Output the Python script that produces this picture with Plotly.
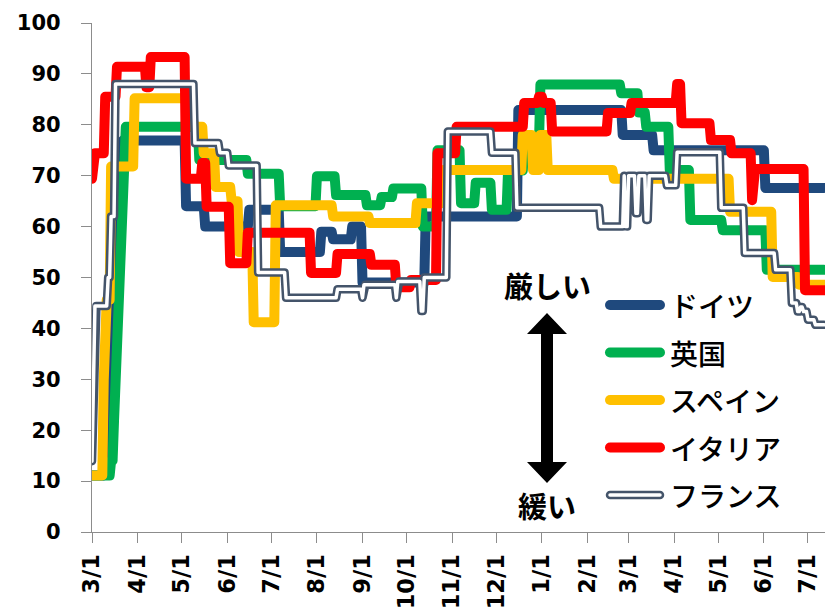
import pandas as pd
import plotly.graph_objects as go

# ---- stringency index, recorded as (date the level changed, new level) ----
GERMANY_DATES = ["2020-03-01", "2020-03-10", "2020-03-13", "2020-03-16", "2020-03-18", "2020-03-20",
                 "2020-03-22", "2020-05-04", "2020-05-17", "2020-06-16", "2020-07-07", "2020-08-04",
                 "2020-08-12", "2020-08-25", "2020-09-01", "2020-10-14", "2020-12-16", "2021-02-25",
                 "2021-03-18", "2021-06-02"]
GERMANY_VALUES = [11.1, 25.0, 34.0, 48.0, 60.0, 68.0,
                  76.9, 64.0, 60.0, 63.3, 55.0, 59.0,
                  57.5, 60.0, 49.0, 62.0, 82.9, 78.0,
                  75.0, 67.6]

UK_DATES = ["2020-03-01", "2020-03-14", "2020-03-16", "2020-03-17", "2020-03-18", "2020-03-19",
            "2020-03-20", "2020-03-21", "2020-03-22", "2020-03-23", "2020-05-13", "2020-06-15",
            "2020-07-07", "2020-08-01", "2020-08-14", "2020-09-04", "2020-09-14", "2020-09-22",
            "2020-10-12", "2020-10-22", "2020-11-07", "2020-11-17", "2020-11-28", "2020-12-09",
            "2020-12-20", "2020-12-31", "2021-02-24", "2021-03-08", "2021-03-13", "2021-03-29",
            "2021-04-12", "2021-05-04", "2021-06-03"]
UK_VALUES = [11.1, 14.0, 22.0, 30.0, 38.0, 46.0,
             55.0, 64.0, 72.0, 79.6, 73.1, 70.4,
             64.0, 69.9, 66.2, 64.2, 65.8, 67.5,
             60.0, 75.0, 64.6, 68.6, 63.3, 71.0,
             75.9, 87.9, 86.2, 82.4, 79.6, 71.1,
             61.3, 59.3, 51.5]

SPAIN_DATES = ["2020-03-01", "2020-03-09", "2020-03-10", "2020-03-14", "2020-03-30", "2020-05-09",
               "2020-05-16", "2020-05-24", "2020-06-04", "2020-06-09", "2020-06-19", "2020-07-04",
               "2020-08-12", "2020-09-06", "2020-10-08", "2020-10-26", "2020-12-19", "2020-12-26",
               "2020-12-31", "2021-01-05", "2021-02-19", "2021-05-09", "2021-06-07", "2021-06-25"]
SPAIN_VALUES = [11.1, 30.0, 45.6, 71.8, 85.2, 79.6,
                74.4, 67.8, 65.0, 55.0, 41.2, 64.2,
                62.0, 60.7, 64.6, 71.1, 78.0, 71.1,
                78.0, 71.1, 69.4, 62.9, 50.1, 48.6]

ITALY_DATES = ["2020-03-01", "2020-03-02", "2020-03-10", "2020-03-18", "2020-04-07", "2020-04-10",
               "2020-05-04", "2020-05-15", "2020-05-18", "2020-06-03", "2020-06-15", "2020-07-28",
               "2020-08-15", "2020-09-07", "2020-09-24", "2020-10-04", "2020-10-22", "2020-11-04",
               "2020-12-20", "2020-12-30", "2021-01-02", "2021-01-08", "2021-02-15", "2021-03-03",
               "2021-04-03", "2021-04-06", "2021-04-26", "2021-05-10", "2021-05-24", "2021-05-25",
               "2021-06-29"]
ITALY_VALUES = [69.4, 74.4, 85.5, 91.4, 87.4, 93.3,
                69.4, 72.5, 63.9, 52.8, 58.8, 50.9,
                54.6, 52.5, 48.1, 49.5, 74.4, 79.6,
                84.3, 85.5, 84.3, 78.7, 82.3, 84.3,
                88.0, 80.3, 77.0, 74.4, 65.2, 71.3,
                47.5]

FRANCE_DATES = ["2020-03-01", "2020-03-02", "2020-03-03", "2020-03-12", "2020-03-14", "2020-03-17",
                "2020-05-10", "2020-05-27", "2020-06-02", "2020-06-22", "2020-07-11", "2020-08-15",
                "2020-09-01", "2020-09-02", "2020-09-24", "2020-09-25", "2020-10-11", "2020-10-13",
                "2020-10-29", "2020-11-28", "2020-12-15", "2021-02-10", "2021-02-26", "2021-02-27",
                "2021-03-01", "2021-03-06", "2021-03-08", "2021-03-13", "2021-03-15", "2021-03-27",
                "2021-04-03", "2021-05-03", "2021-05-19", "2021-06-09", "2021-06-20", "2021-06-24",
                "2021-06-26", "2021-06-28", "2021-07-01", "2021-07-06"]
FRANCE_VALUES = [13.9, 27.8, 44.4, 50.0, 62.0, 88.0,
                 76.4, 74.5, 72.0, 51.0, 46.0, 47.7,
                 46.0, 48.6, 46.0, 49.2, 43.4, 50.0,
                 78.7, 74.5, 63.7, 60.0, 70.0, 60.0,
                 70.0, 62.6, 70.0, 61.3, 70.0, 68.1,
                 74.6, 63.7, 54.8, 51.5, 45.0, 43.3,
                 44.2, 43.3, 41.7, 40.7]

TICK_DATES = ["2020-03-01", "2020-04-01", "2020-05-01", "2020-06-01", "2020-07-01", "2020-08-01",
              "2020-09-01", "2020-10-01", "2020-11-01", "2020-12-01", "2021-01-01", "2021-02-01",
              "2021-03-01", "2021-04-01", "2021-05-01", "2021-06-01", "2021-07-01"]
TICK_LABELS = ["3/1", "4/1", "5/1", "6/1", "7/1", "8/1", "9/1", "10/1", "11/1", "12/1",
               "1/1", "2/1", "3/1", "4/1", "5/1", "6/1", "7/1"]

LEGEND_LABELS = ["ドイツ", "英国", "スペイン", "イタリア", "フランス"]

# ---- styling ----
NAVY, GREEN, GOLD, RED = "#1F497D", "#00B050", "#FFC000", "#FF0000"
SLATE = "#44546A"
AXIS_GREY = "#8C8C8C"
W, H = 825, 609
M_L, M_R, M_T, M_B = 92, 0, 23, 77
DAY_START = pd.Timestamp("2020-03-01")
DAY_END = pd.Timestamp("2021-07-12 14:00")
JP_FONT = "Noto Sans CJK JP"
Y_TICK_FONT = dict(family="DejaVu Sans", size=21, color="black", weight="bold")
X_TICK_FONT = dict(family="DejaVu Sans", size=22.5, color="black", weight="bold")


def daily(dates, values):
    """Expand change points into a daily step series."""
    s = pd.Series(values, index=pd.to_datetime(dates))
    idx = pd.date_range(DAY_START, DAY_END.normalize(), freq="D")
    return s.reindex(s.index.union(idx)).ffill().reindex(idx)


fig = go.Figure()

solid_series = [
    (GERMANY_DATES, GERMANY_VALUES, NAVY),
    (UK_DATES, UK_VALUES, GREEN),
    (SPAIN_DATES, SPAIN_VALUES, GOLD),
    (ITALY_DATES, ITALY_VALUES, RED),
]
for dates, values, color in solid_series:
    s = daily(dates, values)
    fig.add_trace(go.Scatter(x=s.index, y=s.values, mode="lines",
                             line=dict(color=color, width=10), showlegend=False,
                             hoverinfo="skip"))

# France: outlined (double) line
fr = daily(FRANCE_DATES, FRANCE_VALUES)
fig.add_trace(go.Scatter(x=fr.index, y=fr.values, mode="lines",
                         line=dict(color=SLATE, width=8.5), showlegend=False, hoverinfo="skip"))
fig.add_trace(go.Scatter(x=fr.index, y=fr.values, mode="lines",
                         line=dict(color="white", width=3.5), showlegend=False, hoverinfo="skip"))

# ---- hand-made legend, drawn on an overlay axis measured in page pixels ----
legend_colors = [NAVY, GREEN, GOLD, RED, SLATE]
row0, row_step = 305, 47.5
sw_x0, sw_x1, text_x = 610, 660, 668
for i, (label, color) in enumerate(zip(LEGEND_LABELS, legend_colors)):
    ry = row0 + i * row_step
    fig.add_trace(go.Scatter(x=[sw_x0, sw_x1], y=[ry, ry], mode="lines", xaxis="x2", yaxis="y2",
                             line=dict(color=color, width=10 if i < 4 else 8.5),
                             showlegend=False, hoverinfo="skip"))
    if i == 4:
        fig.add_trace(go.Scatter(x=[sw_x0, sw_x1], y=[ry, ry], mode="lines", xaxis="x2", yaxis="y2",
                                 line=dict(color="white", width=3.5),
                                 showlegend=False, hoverinfo="skip"))
    fig.add_annotation(x=text_x, y=ry, xref="x2", yref="y2", text=label, showarrow=False,
                       xanchor="left", yanchor="middle",
                       font=dict(family=JP_FONT, size=28, color="black", weight=500))

# ---- strict / loose indicator with a double-headed arrow ----
ax_c, tip_top, base_top, base_bot, tip_bot = 547, 313, 334, 462, 483
half_head, half_shaft = 20, 6
arrow_path = (f"M{ax_c},{tip_top} L{ax_c + half_head},{base_top} L{ax_c + half_shaft},{base_top} "
              f"L{ax_c + half_shaft},{base_bot} L{ax_c + half_head},{base_bot} L{ax_c},{tip_bot} "
              f"L{ax_c - half_head},{base_bot} L{ax_c - half_shaft},{base_bot} "
              f"L{ax_c - half_shaft},{base_top} L{ax_c - half_head},{base_top} Z")
fig.add_shape(type="path", path=arrow_path, xref="x2", yref="y2",
              fillcolor="black", line=dict(color="black", width=0))
fig.add_annotation(x=ax_c, y=285, xref="x2", yref="y2", text="厳しい", showarrow=False,
                   xanchor="center", yanchor="middle",
                   font=dict(family=JP_FONT, size=29, color="black", weight="bold"))
fig.add_annotation(x=ax_c, y=505, xref="x2", yref="y2", text="緩い", showarrow=False,
                   xanchor="center", yanchor="middle",
                   font=dict(family=JP_FONT, size=29, color="black", weight="bold"))

fig.update_layout(
    width=W, height=H,
    margin=dict(l=M_L, r=M_R, t=M_T, b=M_B, pad=0, autoexpand=False),
    paper_bgcolor="white", plot_bgcolor="white",
    showlegend=False,
    xaxis=dict(type="date", range=[DAY_START, DAY_END], tickmode="array",
               tickvals=TICK_DATES, ticktext=TICK_LABELS, tickangle=-90,
               ticks="outside", ticklen=10, tickwidth=1.3, tickcolor=AXIS_GREY,
               showline=True, linecolor=AXIS_GREY, linewidth=1.3, automargin=False,
               showgrid=False, zeroline=False, tickfont=X_TICK_FONT, ticklabelstandoff=2),
    yaxis=dict(range=[0, 100], tickmode="linear", tick0=0, dtick=10,
               ticks="outside", ticklen=10, tickwidth=1.3, tickcolor=AXIS_GREY,
               showline=True, linecolor=AXIS_GREY, linewidth=1.3, automargin=False,
               showgrid=False, zeroline=False, tickfont=Y_TICK_FONT, ticklabelstandoff=16),
    xaxis2=dict(overlaying="x", range=[M_L, W - M_R], visible=False, fixedrange=True),
    yaxis2=dict(overlaying="y", range=[H - M_B, M_T], visible=False, fixedrange=True),
)

# rounded joins and caps on every drawn line
round_css = ("var s=document.createElement('style');"
             "s.textContent='.scatterlayer path.js-line{stroke-linejoin:round!important;"
             "stroke-linecap:round!important}';"
             "document.head.appendChild(s);")
fig.write_html("out.html", post_script=round_css)
